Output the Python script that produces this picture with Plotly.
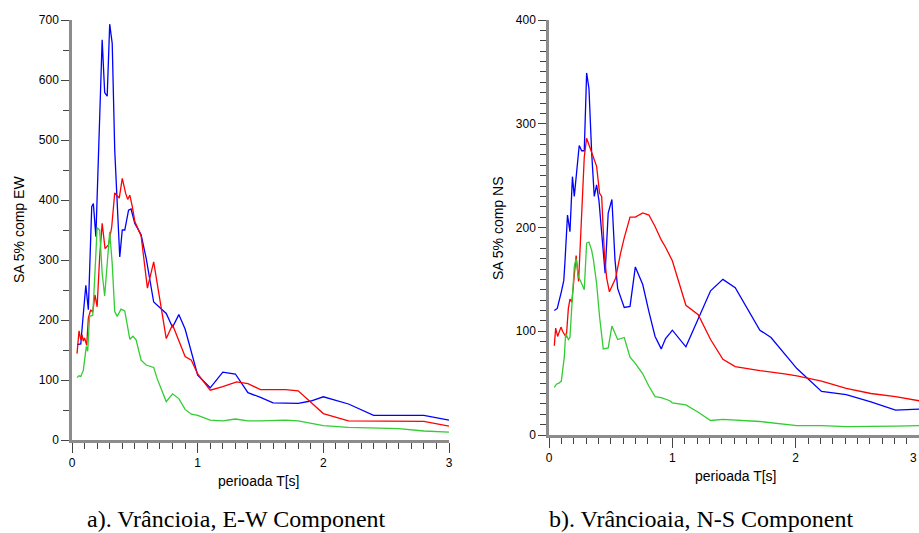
import plotly.graph_objects as go

# ---------------- data ----------------
# Panel a) E-W component
ew_blue_t = [0.04,0.07,0.085,0.11,0.13,0.157,0.17,0.19,0.24,0.26,0.28,0.30,0.32,0.34,0.38,0.40,0.42,0.45,0.47,0.50,0.55,0.59,0.65,0.70,0.75,0.80,0.85,0.90,1.0,1.1,1.2,1.3,1.4,1.5,1.6,1.8,1.9,2.0,2.2,2.4,2.8,3.0]
ew_blue_v = [159,160,198,258,217,389,394,339,667,579,573,693,661,483,305,350,350,383,385,361,342,303,230,220,211,188,209,185,108,87,113,110,79,71,62,61,65,72,60,41,41,33]

ew_red_t = [0.04,0.056,0.07,0.08,0.09,0.1,0.117,0.13,0.149,0.165,0.183,0.20,0.22,0.24,0.263,0.29,0.316,0.34,0.376,0.40,0.427,0.443,0.46,0.48,0.50,0.55,0.60,0.65,0.75,0.80,0.90,0.95,1.0,1.1,1.2,1.31,1.4,1.5,1.7,1.8,2.0,2.2,2.8,3.0]
ew_red_v = [144,182,167,175,165,170,158,203,217,213,242,222,305,361,319,325,355,412,403,436,411,401,408,389,364,340,253,297,169,192,139,133,110,83,89,97,94,84,84,82,44,32,31,23]

ew_green_t = [0.04,0.055,0.07,0.09,0.114,0.125,0.14,0.165,0.18,0.20,0.22,0.24,0.26,0.28,0.30,0.32,0.34,0.36,0.39,0.42,0.46,0.485,0.51,0.55,0.59,0.65,0.68,0.75,0.80,0.85,0.90,0.95,1.0,1.1,1.2,1.3,1.4,1.5,1.7,1.8,2.0,2.2,2.6,2.8,3.0]
ew_green_v = [104,107,106,116,156,148,206,208,267,354,350,278,240,294,347,294,214,206,218,215,168,173,167,133,125,121,101,64,77,69,51,43,41,33,32,35,32,32,33,32,24,21,19,15,13]

# Panel b) N-S component
ns_blue_t = [0.043,0.067,0.10,0.12,0.13,0.15,0.17,0.19,0.205,0.245,0.265,0.286,0.305,0.324,0.346,0.367,0.386,0.405,0.43,0.455,0.48,0.51,0.535,0.557,0.61,0.657,0.70,0.76,0.81,0.86,0.91,0.945,0.98,1.0,1.11,1.21,1.31,1.41,1.51,1.71,1.80,2.01,2.21,2.41,2.61,2.81,3.0]
ns_blue_v = [120,122,138,149,168,212,196,249,230,279,274,274,349,334,272,230,241,226,191,156,214,227,169,141,123,124,162,145,119,95,83,93,98,101,85,112,139,150,142,101,94,64,42,39,32,24,25]

ns_red_t = [0.043,0.054,0.07,0.097,0.11,0.14,0.157,0.17,0.185,0.205,0.22,0.24,0.286,0.305,0.36,0.386,0.41,0.427,0.45,0.468,0.49,0.54,0.58,0.61,0.657,0.70,0.76,0.81,0.86,0.91,0.945,1.0,1.11,1.21,1.31,1.41,1.51,1.71,1.91,2.01,2.21,2.41,2.61,2.81,3.0]
ns_red_v = [86,103,95,104,100,94,122,131,128,159,173,148,268,286,268,259,233,230,172,151,138,151,175,190,210,210,214,212,201,188,181,168,125,116,92,73,66,62,59,57,52,45,40,37,33]

ns_green_t = [0.043,0.06,0.08,0.10,0.124,0.135,0.157,0.17,0.183,0.205,0.22,0.237,0.265,0.286,0.305,0.324,0.346,0.36,0.386,0.41,0.44,0.48,0.51,0.557,0.61,0.657,0.70,0.76,0.81,0.86,0.91,0.98,1.0,1.11,1.21,1.31,1.41,1.55,1.71,2.01,2.21,2.41,2.61,2.81,3.0]
ns_green_v = [46,49,50,52,75,98,92,94,120,162,170,153,146,140,185,186,178,169,146,114,83,84,105,92,94,75,69,59,47,37,36,33,31,29,22,14,15,14,13,9,9,8,8,8.5,9]

x_ticks = [0, 1, 2, 3]
ew_y_ticks = [0, 100, 200, 300, 400, 500, 600, 700]
ns_y_ticks = [0, 100, 200, 300, 400]

x_title = "perioada T[s]"
ew_y_title = "SA 5% comp EW"
ns_y_title = "SA 5% comp NS"
caption_a = "a). Vrâncioia, E-W Component"
caption_b = "b). Vrâncioaia, N-S Component"

# ---------------- figure ----------------
W, H = 919, 533
BLUE, RED, GREEN = "#0000ff", "#ff0000", "#33cc33"
LW = 1.3

fig = go.Figure()
for t, v, c in [(ew_blue_t, ew_blue_v, BLUE), (ew_red_t, ew_red_v, RED), (ew_green_t, ew_green_v, GREEN)]:
    fig.add_trace(go.Scatter(x=t, y=v, mode="lines", line=dict(color=c, width=LW),
                             xaxis="x", yaxis="y", showlegend=False, hoverinfo="skip"))
for t, v, c in [(ns_blue_t, ns_blue_v, BLUE), (ns_red_t, ns_red_v, RED), (ns_green_t, ns_green_v, GREEN)]:
    fig.add_trace(go.Scatter(x=t, y=v, mode="lines", line=dict(color=c, width=LW),
                             xaxis="x2", yaxis="y2", showlegend=False, hoverinfo="skip"))

TICKFONT = dict(family="Liberation Sans Narrow, Liberation Sans, Arial", size=12, color="#000")
AXLINE = "#8c8c8c"

def xax(domain, anchor):
    return dict(domain=domain, anchor=anchor, range=[0, 3], tickvals=x_ticks,
                ticks="outside", ticklen=10, tickwidth=1, tickcolor="#444",
                minor=dict(dtick=0.1, ticks="outside", ticklen=6, tickwidth=1, tickcolor="#444"),
                showline=True, linecolor=AXLINE, linewidth=2.5, showgrid=False, zeroline=False,
                tickfont=TICKFONT, automargin=False, fixedrange=True)

def yax(domain, anchor, rng, tickvals, minor_dt):
    return dict(domain=domain, anchor=anchor, range=rng, tickvals=tickvals,
                ticks="outside", ticklen=8, tickwidth=1, tickcolor="#444",
                minor=dict(dtick=minor_dt, ticks="outside", ticklen=6, tickwidth=1, tickcolor="#444"),
                showline=True, linecolor=AXLINE, linewidth=2.5, showgrid=False, zeroline=False,
                tickfont=TICKFONT, automargin=False, fixedrange=True)

fig.update_layout(
    width=W, height=H,
    margin=dict(l=0, r=0, t=0, b=0),
    paper_bgcolor="white", plot_bgcolor="white",
    xaxis=xax([72 / W, 449 / W], "y"),
    yaxis=yax([1 - 440 / H, 1 - 20 / H], "x", [0, 700], ew_y_ticks, 50),
    xaxis2=xax([549 / W, 1.0], "y2"),
    yaxis2=yax([1 - 435 / H, 1 - 20 / H], "x2", [0, 400], ns_y_ticks, 10),
)

LBL = dict(family="Liberation Sans Narrow, Liberation Sans, Arial", size=14, color="#000")
CAP = dict(family="Liberation Serif, Times New Roman, serif", size=24, color="#000")
ann = [
    dict(x=258 / W, y=1 - 481 / H, text=x_title, font=LBL),
    dict(x=735 / W, y=1 - 476 / H, text=x_title, font=LBL),
    dict(x=19 / W, y=1 - 230 / H, text=ew_y_title, font=LBL, textangle=-90),
    dict(x=498 / W, y=1 - 228 / H, text=ns_y_title, font=LBL, textangle=-90),
    dict(x=236 / W, y=1 - 519 / H, text=caption_a, font=CAP),
    dict(x=701 / W, y=1 - 519 / H, text=caption_b, font=CAP),
    # right-panel "3" tick label sitting at the page edge
    dict(x=1.0, y=1 - 458 / H, text=str(x_ticks[-1]), font=TICKFONT, xanchor="right"),
]
for a in ann:
    a.update(xref="paper", yref="paper", showarrow=False, yanchor="middle")
    a.setdefault("xanchor", "center")
fig.update_layout(annotations=ann)

fig.write_html("out.html", config={"displayModeBar": False},
               post_script="document.body.style.margin='0';document.body.style.overflow='hidden';")
